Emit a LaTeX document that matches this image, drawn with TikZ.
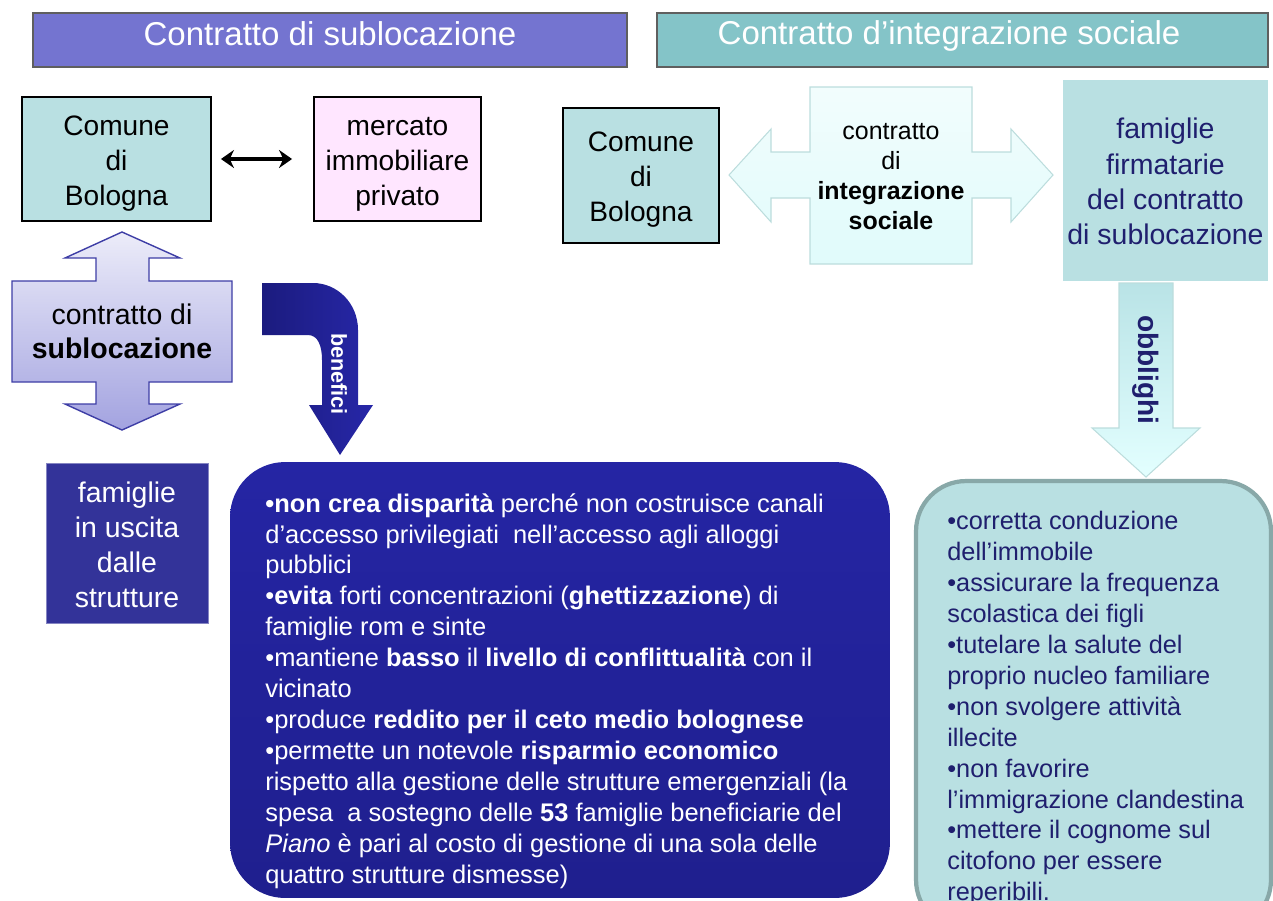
\documentclass[tikz,border=0pt]{standalone}
\usepackage{fontspec}
\setmainfont{Liberation Sans}
\usetikzlibrary{arrows.meta}
\definecolor{hdrL}{HTML}{7474D0}
\definecolor{hdrR}{HTML}{84C4C8}
\definecolor{hdrline}{HTML}{5F5F5F}
\definecolor{lteal}{HTML}{B9E0E2}
\definecolor{lpink}{HTML}{FFE6FF}
\definecolor{navytxt}{HTML}{1F1F6E}
\definecolor{uscita}{HTML}{333399}
\definecolor{obline}{HTML}{88A8A8}
\definecolor{darktop}{HTML}{2525A4}
\definecolor{darkbot}{HTML}{1F1F8E}
\definecolor{benL}{HTML}{1B1B7E}
\definecolor{benR}{HTML}{2727A8}
\definecolor{crossTop}{HTML}{ECECF9}
\definecolor{crossBot}{HTML}{A3A3E0}
\definecolor{crossLine}{HTML}{3E3EA6}
\definecolor{intTop}{HTML}{F2FDFD}
\definecolor{intBot}{HTML}{E0FBFB}
\definecolor{intLine}{HTML}{BCDDDD}
\definecolor{oblTop}{HTML}{B9E3E6}
\definecolor{oblBot}{HTML}{E3FFFF}
\newcommand\myfs[2]{\fontsize{#1}{#2}\selectfont}
\begin{document}
\begin{tikzpicture}[x=0.02cm,y=-0.02cm,
  hdrbox/.style={draw=hdrline, line width=1.1pt, inner sep=0},
  hdrtext/.style={text=white, font=\myfs{18.8}{22}, inner sep=0},
  tealbox/.style={draw=black, line width=1.1pt, fill=lteal, inner sep=0},
  pinkbox/.style={draw=black, line width=1.1pt, fill=lpink, inner sep=0},
  boxtext/.style={align=center, font=\myfs{16}{19.9}, inner sep=0},
  plain/.style={align=center, inner sep=0},
  dblarrow/.style={line width=0.08cm, {Stealth[length=0.26cm,width=0.36cm]}-{Stealth[length=0.26cm,width=0.36cm]}}
]
\useasboundingbox (0,0) rectangle (1273,900);
\clip (0,0) rectangle (1273,900);

% headers
\node[hdrbox, fill=hdrL, minimum width=11.88cm, minimum height=1.08cm] (hL) at (330,40) {};
\node[hdrtext] (hLt) at (330,34) {Contratto di sublocazione};
\node[hdrbox, fill=hdrR, minimum width=12.22cm, minimum height=1.08cm] (hR) at (962.5,40) {};
\node[hdrtext] (hRt) at (949,36) {Contratto d’integrazione sociale};

% left top boxes
\node[tealbox, minimum width=3.78cm, minimum height=2.48cm] (cbL) at (116.5,159) {};
\node[boxtext] (cbLt) at (116.5,164) {Comune\\di\\Bologna};
\node[pinkbox, minimum width=3.34cm, minimum height=2.48cm] (mip) at (397.5,159) {};
\node[boxtext] (mipt) at (397.5,164) {mercato\\immobiliare\\privato};
\draw[dblarrow, shorten <=0.18cm, shorten >=0.42cm] (cbL) -- (mip);

% right comune
\node[tealbox, minimum width=3.12cm, minimum height=2.7cm] (cbR) at (641,175.5) {};
\node[boxtext] (cbRt) at (641,179.5) {Comune\\di\\Bologna};

% integrazione cross arrow
\path[draw=intLine, line width=0.6pt, top color=intTop, bottom color=intBot]
  (729,175) -- (771,129) -- (771,152) -- (810,152) -- (810,87) -- (972,87) -- (972,152)
  -- (1011,152) -- (1011,129) -- (1053,175) -- (1011,222) -- (1011,198) -- (972,198)
  -- (972,264) -- (810,264) -- (810,198) -- (771,198) -- (771,222) -- cycle;
\node[plain, font=\myfs{14.2}{17}] (cis) at (891,176.5) {contratto\\di\\\textbf{integrazione}\\\textbf{sociale}};

% famiglie firmatarie
\node[fill=lteal, minimum width=4.1cm, minimum height=4.02cm, inner sep=0] (ff) at (1165.5,180.5) {};
\node[boxtext, text=navytxt, font=\myfs{16.2}{20.1}] (fft) at (1165.5,181.5) {famiglie\\firmatarie\\del contratto\\di sublocazione};

% obblighi arrow
\path[draw=intLine, line width=0.6pt, top color=oblTop, bottom color=oblBot]
  (1119,283) -- (1173,283) -- (1173,428) -- (1200,428) -- (1146,477) -- (1092,428) -- (1119,428) -- cycle;
\node[rotate=-90, text=navytxt, font=\myfs{16}{19}\bfseries, inner sep=0] (obl) at (1146,370) {obblighi};

% left vertical cross arrow
\path[draw=crossLine, line width=0.8pt, top color=crossTop, bottom color=crossBot]
  (122,232) -- (180,258) -- (149,258) -- (149,281) -- (232,281) -- (232,382) -- (149,382)
  -- (149,404) -- (180,404) -- (122,430) -- (65,404) -- (96,404) -- (96,382) -- (12,382)
  -- (12,281) -- (96,281) -- (96,258) -- (65,258) -- cycle;
\node[plain, font=\myfs{16.2}{19.5}] (cds) at (122,331) {contratto di\\\textbf{sublocazione}};

% benefici curved arrow
\path[left color=benL, right color=benR]
  (262,283) -- (313,283) .. controls (337,283) and (358,303) .. (358,330) -- (358,405)
  -- (373,405) -- (340,455) -- (309,405) -- (322,405) -- (322,360)
  .. controls (322,346) and (318,335) .. (308,335) -- (262,335) -- cycle;
\node[rotate=-90, text=white, font=\myfs{12.3}{14}\bfseries, inner sep=0] (ben) at (339,374) {benefici};

% famiglie in uscita
\node[fill=uscita, draw=uscita!60!white, line width=0.5pt, minimum width=3.24cm, minimum height=3.2cm, inner sep=0] (fu) at (127,543) {};
\node[boxtext, text=white, font=\myfs{16.2}{20}] (fut) at (127,545) {famiglie\\in uscita\\dalle\\strutture};

% dark benefits box
\node[rounded corners=1.1cm, top color=darktop, bottom color=darkbot,
  minimum width=13.2cm, minimum height=8.72cm, inner sep=0] (bb) at (560,680) {};
\node[anchor=north west, align=left, text=white, font=\myfs{14.5}{17.6}, inner sep=0] (bt) at (265,493) {%
\textbf{•non crea disparità} perché non costruisce canali\\
d’accesso privilegiati\ \ nell’accesso agli alloggi\\
pubblici\\
•\textbf{evita} forti concentrazioni (\textbf{ghettizzazione}) di\\
famiglie rom e sinte\\
•mantiene \textbf{basso} il \textbf{livello di conflittualità} con il\\
vicinato\\
•produce \textbf{reddito per il ceto medio bolognese}\\
•permette un notevole \textbf{risparmio economico}\\
rispetto alla gestione delle strutture emergenziali (la\\
spesa\ \ a sostegno delle \textbf{53} famiglie beneficiarie del\\
\textit{Piano} è pari al costo di gestione di una sola delle\\
quattro strutture dismesse)};

% obligations box
\node[rounded corners=1cm, fill=lteal, draw=obline, line width=2.4pt,
  minimum width=7.1cm, minimum height=8.98cm, inner sep=0] (ob) at (1093.5,705.5) {};
\node[anchor=north west, align=left, text=navytxt, font=\myfs{14.4}{17.6}, inner sep=0] (obt) at (947,511) {%
•corretta conduzione\\
dell’immobile\\
•assicurare la frequenza\\
scolastica dei figli\\
•tutelare la salute del\\
proprio nucleo familiare\\
•non svolgere attività\\
illecite\\
•non favorire\\
l’immigrazione clandestina\\
•mettere il cognome sul\\
citofono per essere\\
reperibili.};
\end{tikzpicture}
\end{document}
